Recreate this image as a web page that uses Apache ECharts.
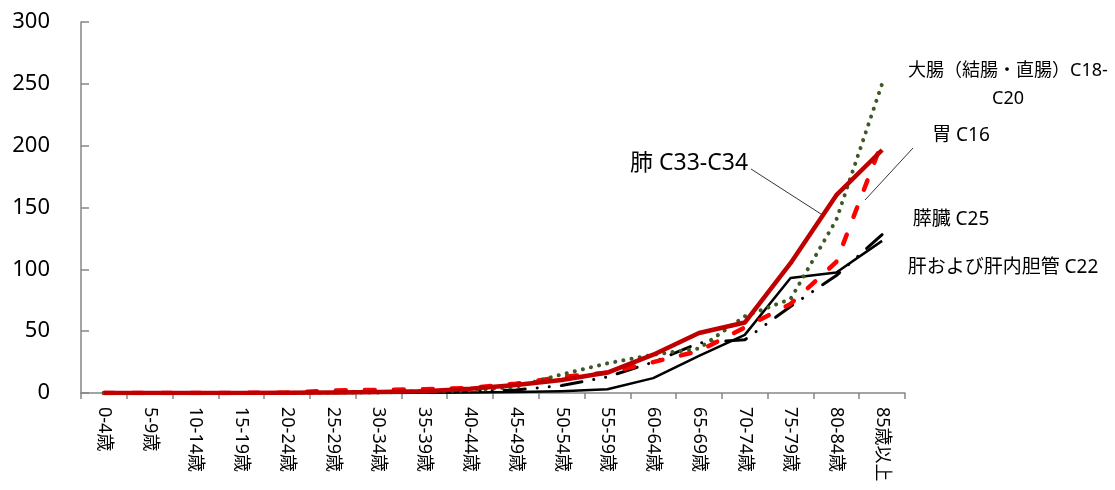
<!DOCTYPE html>
<html>
<head>
<meta charset="utf-8">
<script src="https://cdn.jsdelivr.net/npm/echarts@6/dist/echarts.min.js"></script>
<style>
html,body{margin:0;padding:0;background:#fff;}
#chart{width:1115px;height:490px;}
</style>
</head>
<body>
<div id="chart"></div>
<script>
const categories = ['0-4歳','5-9歳','10-14歳','15-19歳','20-24歳','25-29歳','30-34歳','35-39歳','40-44歳','45-49歳','50-54歳','55-59歳','60-64歳','65-69歳','70-74歳','75-79歳','80-84歳','85歳以上'];
const yTicks = [0, 50, 100, 150, 200, 250, 300];

const lung     = [0, 0, 0.1, 0.1, 0.2, 0.4, 0.8, 1.5, 3.5, 6.5, 10.5, 16.5, 31, 48.5, 57, 105, 160, 196.5];
const stomach  = [0, 0, 0, 0.1, 0.3, 2, 2.5, 3, 4, 7.5, 13, 16.5, 25, 34, 53, 72, 106, 203];
const colon    = [0, 0, 0, 0, 0.1, 0.3, 0.5, 1.5, 2, 5, 15, 24, 31, 36, 62, 76, 140, 250];
const pancreas = [0, 0, 0, 0, 0, 0.1, 0.2, 0.5, 1.5, 2.5, 6, 13, 25, 40.5, 43, 70, 95, 128];
const liver    = [0, 0, 0, 0, 0, 0.1, 0.1, 0.2, 0.4, 0.8, 1.5, 3, 12, 30, 47, 93, 97.5, 123];

const seriesNames = ['肝および肝内胆管 C22', '膵臓 C25', '胃 C16', '大腸（結腸・直腸）C18-C20', '肺 C33-C34'];

const FONT = "'Noto Sans', 'Noto Sans CJK JP', sans-serif";
const chart = echarts.init(document.getElementById('chart'), null, {renderer: 'canvas'});

function mk(name, data, color, width, type, cap) {
  return {
    name: name, type: 'line', data: data, symbol: 'none', smooth: false,
    lineStyle: {color: color, width: width, type: type, cap: cap || 'butt', join: 'round'},
    itemStyle: {color: color},
    animation: false
  };
}

chart.setOption({
  animation: false,
  backgroundColor: '#ffffff',
  grid: {left: 81, right: 210, top: 22, bottom: 97, containLabel: false},
  xAxis: {
    type: 'category', data: categories, boundaryGap: true,
    axisLine: {lineStyle: {color: '#868686', width: 1.5}},
    axisTick: {show: true, inside: false, length: 6, lineStyle: {color: '#868686', width: 1.5}, alignWithLabel: false},
    axisLabel: {rotate: -90, margin: 14, fontSize: 18, color: '#000', fontFamily: FONT, interval: 0},
    splitLine: {show: false}
  },
  yAxis: {
    type: 'value', min: yTicks[0], max: yTicks[yTicks.length - 1], interval: yTicks[1] - yTicks[0],
    axisLine: {show: true, lineStyle: {color: '#868686', width: 1.5}},
    axisTick: {show: true, inside: true, length: 8, lineStyle: {color: '#868686', width: 1.5}},
    axisLabel: {fontSize: 22, color: '#000', fontFamily: FONT, margin: 31},
    splitLine: {show: false}
  },
  series: [
    mk(seriesNames[0], liver, '#000000', 2.5, 'solid'),
    mk(seriesNames[1], pancreas, '#000000', 3, [21, 12, 0.1, 12, 0.1, 12], 'round'),
    mk(seriesNames[2], stomach, '#ff0000', 4.5, [10, 19], 'round'),
    mk(seriesNames[3], colon, '#3d5a26', 4, [0.1, 8.2], 'round'),
    mk(seriesNames[4], lung, '#c00000', 4.5, 'solid')
  ],
  graphic: [
    {type: 'line', shape: {x1: 751, y1: 169, x2: 821, y2: 214}, style: {stroke: '#000', lineWidth: 0.8}, z: 100},
    {type: 'line', shape: {x1: 913, y1: 148, x2: 865, y2: 200}, style: {stroke: '#000', lineWidth: 0.8}, z: 100},
    {type: 'text', x: 689, y: 163, style: {text: '肺 C33-C34', fontSize: 23, fontFamily: FONT, fill: '#000', align: 'center', verticalAlign: 'middle'}, z: 100},
    {type: 'text', x: 1008, y: 85, style: {text: '大腸（結腸・直腸）C18-\nC20', fontSize: 18, lineHeight: 28, fontFamily: FONT, fill: '#000', align: 'center', verticalAlign: 'middle'}, z: 100},
    {type: 'text', x: 961, y: 136, style: {text: '胃 C16', fontSize: 19, fontFamily: FONT, fill: '#000', align: 'center', verticalAlign: 'middle'}, z: 100},
    {type: 'text', x: 951, y: 220, style: {text: '膵臓 C25', fontSize: 19, fontFamily: FONT, fill: '#000', align: 'center', verticalAlign: 'middle'}, z: 100},
    {type: 'text', x: 1003, y: 268, style: {text: '肝および肝内胆管 C22', fontSize: 19, fontFamily: FONT, fill: '#000', align: 'center', verticalAlign: 'middle'}, z: 100}
  ]
});
</script>
</body>
</html>
